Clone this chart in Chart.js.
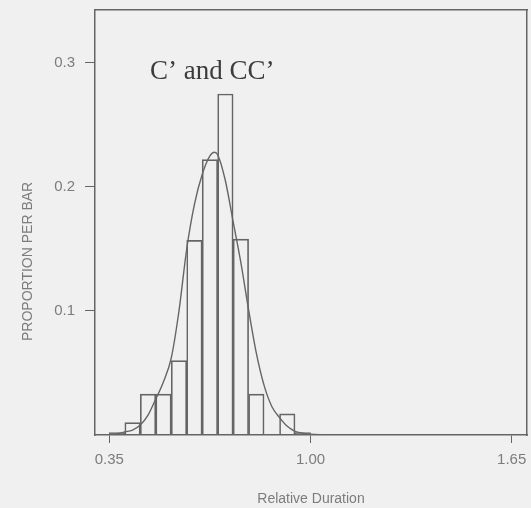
<!DOCTYPE html>
<html>
<head>
<meta charset="utf-8">
<script src="https://cdn.jsdelivr.net/npm/chart.js@4/dist/chart.umd.min.js"></script>
<style>
  html, body { margin: 0; padding: 0; background: #f0f0f0; }
  #wrap { position: relative; width: 531px; height: 508px; }
</style>
</head>
<body>
<div id="wrap"><canvas id="c" width="531" height="508"></canvas></div>
<script>
// ---- data ----
const chartTitle = "C\u2019 and CC\u2019";
const xAxisTitle = "Relative Duration";
const yAxisTitle = "PROPORTION PER BAR";

// histogram bins (centre of each 0.05-wide bin) and proportions
const binCenters = [0.375, 0.425, 0.475, 0.525, 0.575, 0.625, 0.675, 0.725, 0.775, 0.825, 0.875, 0.925, 0.975];
const binValues  = [0.002, 0.010, 0.033, 0.033, 0.060, 0.157, 0.222, 0.275, 0.158, 0.033, 0.000, 0.017, 0.002];

// fitted curve
const curveX = [0.35, 0.375, 0.40, 0.425, 0.45, 0.475, 0.50, 0.525, 0.55, 0.575, 0.60, 0.625, 0.65, 0.675, 0.69, 0.70, 0.725, 0.75, 0.775, 0.80, 0.825, 0.85, 0.875, 0.90, 0.925, 0.95, 0.975, 1.00, 1.05];
const curveY = [0.0005, 0.001, 0.0025, 0.004, 0.008, 0.016, 0.029, 0.043, 0.062, 0.100, 0.150, 0.186, 0.210, 0.225, 0.228, 0.226, 0.205, 0.172, 0.139, 0.101, 0.066, 0.040, 0.023, 0.014, 0.007, 0.003, 0.0015, 0.0006, 0.0];

const xTickValues = [0.35, 1.00, 1.65];
const yTickValues = [0.1, 0.2, 0.3];
const xRange = [0.3037, 1.6995];
const yRange = [0, 0.3427];

// ---- chart ----
const lineCol = '#656565';
const textCol = '#7c7c7c';

const titlePlugin = {
  id: 'innerTitle',
  afterDraw(chart) {
    const ctx = chart.ctx;
    const a = chart.chartArea;
    ctx.save();
    ctx.font = '27px "Liberation Serif", "Times New Roman", serif';
    ctx.fillStyle = '#3c3c3c';
    ctx.textBaseline = 'alphabetic';
    ctx.textAlign = 'left';
    ctx.fillText(chartTitle, a.left + 55, a.top + 69);
    ctx.restore();
  }
};

function noPad(s) { s.paddingTop = 0; s.paddingBottom = 0; s.paddingLeft = 0; s.paddingRight = 0; }

new Chart(document.getElementById('c'), {
  data: {
    datasets: [
      {
        type: 'bar',
        xAxisID: 'x',
        yAxisID: 'y',
        data: binCenters.map((c, i) => ({ x: c, y: binValues[i] })),
        backgroundColor: 'rgba(0,0,0,0)',
        borderColor: lineCol,
        borderWidth: 1,
        borderSkipped: 'start',
        barPercentage: 1,
        categoryPercentage: 1,
        grouped: false,
        order: 2
      },
      {
        type: 'line',
        xAxisID: 'x',
        yAxisID: 'y',
        data: curveX.map((x, i) => ({ x: x, y: curveY[i] })),
        borderColor: lineCol,
        borderWidth: 1.4,
        pointRadius: 0,
        fill: false,
        cubicInterpolationMode: 'monotone',
        order: 1
      }
    ]
  },
  plugins: [titlePlugin],
  options: {
    responsive: false,
    animation: false,
    devicePixelRatio: 1,
    layout: { padding: { top: 10, right: 4, left: 0, bottom: 0 } },
    plugins: { legend: { display: false }, tooltip: { enabled: false }, title: { display: false } },
    scales: {
      x: {
        type: 'linear',
        position: 'bottom',
        offset: false,
        min: xRange[0],
        max: xRange[1],
        afterBuildTicks(s) { s.ticks = xTickValues.map(v => ({ value: v })); },
        afterFit(s) { s.height = 73; noPad(s); },
        ticks: {
          callback: v => Number(v).toFixed(2),
          color: textCol,
          font: { family: '"Liberation Sans", Arial, sans-serif', size: 15 },
          padding: 8,
          maxRotation: 0,
          autoSkip: false
        },
        grid: { display: true, offset: false, drawOnChartArea: false, drawTicks: true, tickLength: 8, color: lineCol, lineWidth: 1 },
        border: { display: true, color: lineCol, width: 1.5 },
        title: {
          display: true,
          text: xAxisTitle,
          color: textCol,
          font: { family: '"Liberation Sans", Arial, sans-serif', size: 14 },
          padding: { top: 9, bottom: 0 }
        }
      },
      xTop: {
        type: 'linear',
        position: 'top',
        offset: false,
        min: xRange[0],
        max: xRange[1],
        afterFit(s) { s.height = 0; noPad(s); },
        ticks: { display: false },
        grid: { display: false, drawTicks: false },
        border: { display: true, color: lineCol, width: 1.5 }
      },
      y: {
        type: 'linear',
        position: 'left',
        min: yRange[0],
        max: yRange[1],
        afterBuildTicks(s) { s.ticks = yTickValues.map(v => ({ value: v })); },
        afterFit(s) { s.width = 95; noPad(s); },
        ticks: {
          callback: v => Number(v).toFixed(1),
          color: textCol,
          font: { family: '"Liberation Sans", Arial, sans-serif', size: 15 },
          padding: 10
        },
        grid: { display: true, drawOnChartArea: false, drawTicks: true, tickLength: 10, color: lineCol, lineWidth: 1 },
        border: { display: true, color: lineCol, width: 1.5 },
        title: {
          display: true,
          text: yAxisTitle + '\u00A0'.repeat(20),
          color: textCol,
          font: { family: '"Liberation Sans", Arial, sans-serif', size: 14 },
          padding: { top: 20, bottom: 0 }
        }
      },
      yRight: {
        type: 'linear',
        position: 'right',
        min: yRange[0],
        max: yRange[1],
        afterFit(s) { s.width = 0; noPad(s); },
        ticks: { display: false },
        grid: { display: false, drawTicks: false },
        border: { display: true, color: lineCol, width: 1.5 }
      }
    }
  }
});
</script>
</body>
</html>
